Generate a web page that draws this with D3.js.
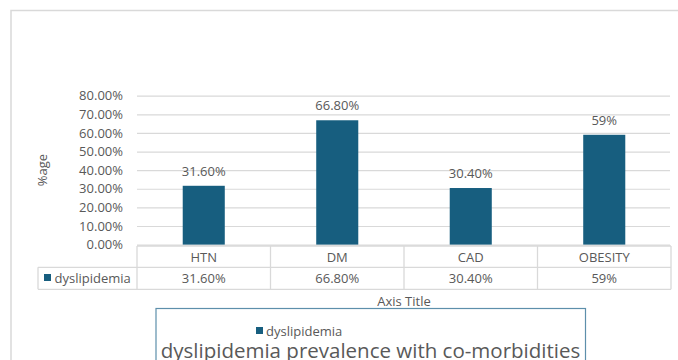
<!DOCTYPE html>
<html>
<head>
<meta charset="utf-8">
<script src="https://cdn.jsdelivr.net/npm/d3@7"></script>
<style>
  html, body { margin: 0; padding: 0; background: #fff; }
  svg { display: block; }
  text { font-family: "Open Sans", "Liberation Sans", sans-serif; fill: #595959; }
</style>
</head>
<body>
<svg id="chart" width="678" height="360"></svg>
<script>
// Dyslipidemia prevalence by co-morbidity
const categories = ["HTN", "DM", "CAD", "OBESITY"];
const values = [31.6, 66.8, 30.4, 59];
const valueLabels = ["31.60%", "66.80%", "30.40%", "59%"];
const yTickValues = [0, 10, 20, 30, 40, 50, 60, 70, 80];
const seriesName = "dyslipidemia";
const yAxisTitle = "%age";
const xAxisTitle = "Axis Title";
const chartTitle = "dyslipidemia prevalence with co-morbidities";

const svg = d3.select("#chart");
const barColor = "#175e7f";
const gridColor = "#d9d9d9";
const fs = 13;

// Chart area frame
svg.append("rect")
  .attr("x", 11).attr("y", 10.5)
  .attr("width", 720).attr("height", 400)
  .attr("fill", "none").attr("stroke", "#d9d9d9").attr("stroke-width", 1.5);

const plot = { left: 137, right: 671, top: 95.7, bottom: 244.6 };

const x = d3.scaleBand()
  .domain(categories)
  .range([plot.left, plot.right])
  .paddingInner(0.685).paddingOuter(0.3425);

const y = d3.scaleLinear()
  .domain([0, 80])
  .range([plot.bottom, plot.top]);

// Horizontal gridlines
svg.append("g")
  .attr("transform", `translate(${plot.left},0)`)
  .call(d3.axisRight(y).tickValues(yTickValues).tickSize(plot.right - plot.left - 1).tickFormat(""))
  .call(g => g.select(".domain").remove())
  .call(g => g.selectAll("line").attr("stroke", gridColor).attr("stroke-width", 1.2));

// Y tick labels
svg.append("g")
  .attr("transform", `translate(${plot.left},0)`)
  .call(d3.axisLeft(y).tickValues(yTickValues).tickSize(0).tickPadding(14)
    .tickFormat(d => d3.format(".2f")(d) + "%"))
  .call(g => g.select(".domain").remove())
  .call(g => g.selectAll("text")
    .attr("font-family", "'Open Sans', sans-serif")
    .attr("font-size", fs).attr("fill", "#595959"));

// Bars
svg.append("g").selectAll("rect")
  .data(values)
  .join("rect")
  .attr("x", (d, i) => x(categories[i]))
  .attr("y", d => y(d))
  .attr("width", x.bandwidth())
  .attr("height", d => y(0) - y(d))
  .attr("fill", barColor);

// Value labels above bars
svg.append("g").selectAll("text")
  .data(values)
  .join("text")
  .attr("x", (d, i) => x(categories[i]) + x.bandwidth() / 2)
  .attr("y", d => y(d) - 10)
  .attr("text-anchor", "middle")
  .attr("font-size", fs)
  .text((d, i) => valueLabels[i]);

// Data table under the axis
const step = x.step();
const rowTop = 246, rowMid = 267.3, rowBot = 289.3;
const table = svg.append("g")
  .attr("fill", "none").attr("stroke", gridColor).attr("stroke-width", 1.3);

table.append("line").attr("x1", plot.left).attr("x2", plot.right).attr("y1", rowTop).attr("y2", rowTop);
table.append("line").attr("x1", 38).attr("x2", plot.right).attr("y1", rowMid).attr("y2", rowMid);
table.append("line").attr("x1", 38).attr("x2", plot.right).attr("y1", rowBot).attr("y2", rowBot);
table.append("line").attr("x1", 38).attr("x2", 38).attr("y1", rowMid).attr("y2", rowBot);
table.selectAll("line.col")
  .data(d3.range(categories.length + 1))
  .join("line")
  .attr("class", "col")
  .attr("x1", i => plot.left + i * step).attr("x2", i => plot.left + i * step)
  .attr("y1", rowTop).attr("y2", rowBot);

svg.append("g").selectAll("text")
  .data(categories)
  .join("text")
  .attr("x", d => x(d) + x.bandwidth() / 2)
  .attr("y", 261.5)
  .attr("text-anchor", "middle")
  .attr("font-size", fs)
  .text(d => d);

svg.append("g").selectAll("text")
  .data(valueLabels)
  .join("text")
  .attr("x", (d, i) => x(categories[i]) + x.bandwidth() / 2)
  .attr("y", 283)
  .attr("text-anchor", "middle")
  .attr("font-size", fs)
  .text(d => d);

// Legend key in the table
svg.append("rect").attr("x", 44).attr("y", 274).attr("width", 7).attr("height", 7).attr("fill", barColor);
svg.append("text").attr("x", 54.5).attr("y", 283).attr("font-size", fs).text(seriesName);

// Axis titles
svg.append("text")
  .attr("x", (plot.left + plot.right) / 2).attr("y", 305.5)
  .attr("text-anchor", "middle").attr("font-size", fs)
  .text(xAxisTitle);

svg.append("text")
  .attr("transform", "translate(47,170) rotate(-90)")
  .attr("text-anchor", "middle").attr("font-size", fs)
  .text(yAxisTitle);

// Title box with legend
svg.append("rect")
  .attr("x", 156).attr("y", 308.5)
  .attr("width", 429.5).attr("height", 80)
  .attr("fill", "#fff").attr("stroke", "#5d8fab").attr("stroke-width", 1.2);

svg.append("rect").attr("x", 256).attr("y", 327).attr("width", 7).attr("height", 7).attr("fill", barColor);
svg.append("text").attr("x", 266).attr("y", 335.5).attr("font-size", fs).text(seriesName);

svg.append("text")
  .attr("x", 370.5).attr("y", 357.5)
  .attr("text-anchor", "middle").attr("font-size", 20.5)
  .text(chartTitle);
</script>
</body>
</html>
